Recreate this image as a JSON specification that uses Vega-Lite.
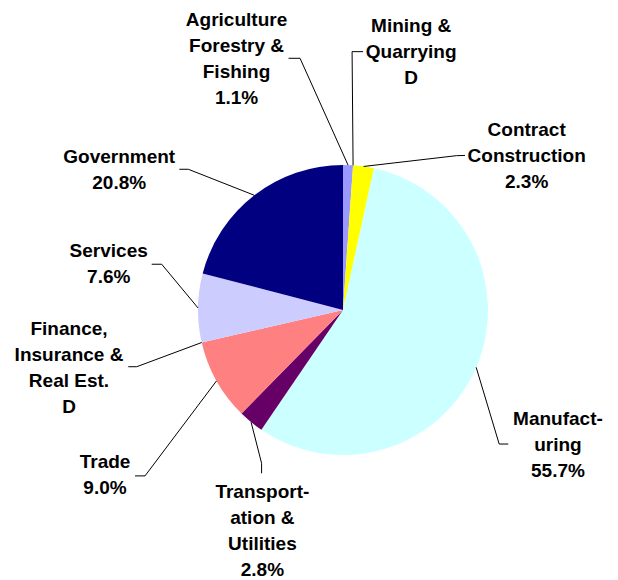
{
  "$schema": "https://vega.github.io/schema/vega-lite/v6.json",
  "width": 550,
  "height": 540,
  "autosize": {"type": "none"},
  "padding": {"left": 68, "top": 40, "right": 0, "bottom": 0},
  "background": "white",
  "config": {"view": {"stroke": null}},
  "data": {
    "values": [
      {"order": 1, "sector": "Agriculture Forestry & Fishing", "value": 1.1, "label": ["Agriculture", "Forestry &", "Fishing", "1.1%"]},
      {"order": 2, "sector": "Mining & Quarrying", "value": 0, "label": ["Mining &", "Quarrying", "D"]},
      {"order": 3, "sector": "Contract Construction", "value": 2.3, "label": ["Contract", "Construction", "2.3%"]},
      {"order": 4, "sector": "Manufacturing", "value": 55.7, "label": ["Manufact-", "uring", "55.7%"]},
      {"order": 5, "sector": "Transportation & Utilities", "value": 2.8, "label": ["Transport-", "ation &", "Utilities", "2.8%"]},
      {"order": 6, "sector": "Trade", "value": 9.0, "label": ["Trade", "9.0%"]},
      {"order": 7, "sector": "Finance, Insurance & Real Est.", "value": 0, "label": ["Finance,", "Insurance &", "Real Est.", "D"]},
      {"order": 8, "sector": "Services", "value": 7.6, "label": ["Services", "7.6%"]},
      {"order": 9, "sector": "Government", "value": 20.8, "label": ["Government", "20.8%"]}
    ]
  },
  "layer": [
    {
      "mark": {"type": "arc", "outerRadius": 145},
      "encoding": {
        "theta": {"field": "value", "type": "quantitative", "stack": true},
        "order": {"field": "order", "type": "quantitative"},
        "color": {
          "field": "sector",
          "type": "nominal",
          "legend": null,
          "scale": {
            "domain": ["Agriculture Forestry & Fishing", "Mining & Quarrying", "Contract Construction", "Manufacturing", "Transportation & Utilities", "Trade", "Finance, Insurance & Real Est.", "Services", "Government"],
            "range": ["#9999FF", "#993366", "#FFFF00", "#CCFFFF", "#660066", "#FF8080", "#0066CC", "#CCCCFF", "#000080"]
          }
        }
      }
    },
    {
      "transform": [
        {"window": [{"op": "sum", "field": "value", "as": "cum"}], "sort": [{"field": "order", "order": "ascending"}], "frame": [null, 0]},
        {"joinaggregate": [{"op": "sum", "field": "value", "as": "total"}]},
        {"calculate": "2*PI*(datum.cum - datum.value/2)/datum.total", "as": "mid"},
        {"calculate": "145*sin(datum.mid)", "as": "x0"},
        {"calculate": "-145*cos(datum.mid)", "as": "y0"},
        {"calculate": "datum.x0 + [-48, -1, 93, 23, 10.5, -71.5, -65, -36.3, -66][datum.order-1]", "as": "x1"},
        {"calculate": "datum.y0 + [-106.8, -113.7, -10.8, 76.7, 41.1, 95, 24.2, -43.7, -26][datum.order-1]", "as": "y1"},
        {"calculate": "datum.x0 + [-59.5, 10, 101.4, 32.1, 10.5, -81.5, -73.4, -46.3, -75][datum.order-1]", "as": "x2"},
        {"calculate": "datum.y0 + [-106.8, -113.7, -11, 76.7, 51.1, 95, 24.2, -43.7, -26][datum.order-1]", "as": "y2"},
        {"calculate": "datum.x0 + [-111.5, 58.1, 163.1, 81.8, 11.3, -111.5, -132.7, -89.3, -135.1][datum.order-1]", "as": "lx"},
        {"calculate": "datum.y0 + [-139, -133.1, -30.5, 57.7, 76.1, 87.3, -7.5, -51.3, -32.6][datum.order-1]", "as": "ly"}
      ],
      "layer": [
        {
          "mark": {"type": "rule", "color": "black", "strokeWidth": 1},
          "encoding": {
            "x": {"field": "x0", "type": "quantitative", "axis": null, "scale": {"domain": [-275, 275], "nice": false, "zero": false}},
            "y": {"field": "y0", "type": "quantitative", "axis": null, "scale": {"domain": [-270, 270], "nice": false, "zero": false, "reverse": true}},
            "x2": {"field": "x1"},
            "y2": {"field": "y1"}
          }
        },
        {
          "mark": {"type": "rule", "color": "black", "strokeWidth": 1},
          "encoding": {
            "x": {"field": "x1", "type": "quantitative"},
            "y": {"field": "y1", "type": "quantitative"},
            "x2": {"field": "x2"},
            "y2": {"field": "y2"}
          }
        },
        {
          "mark": {"type": "text", "font": "Liberation Sans", "fontWeight": "bold", "fontSize": 19, "lineHeight": 26, "align": "center", "baseline": "alphabetic", "color": "black"},
          "encoding": {
            "x": {"field": "lx", "type": "quantitative"},
            "y": {"field": "ly", "type": "quantitative"},
            "text": {"field": "label"}
          }
        }
      ]
    }
  ]
}
